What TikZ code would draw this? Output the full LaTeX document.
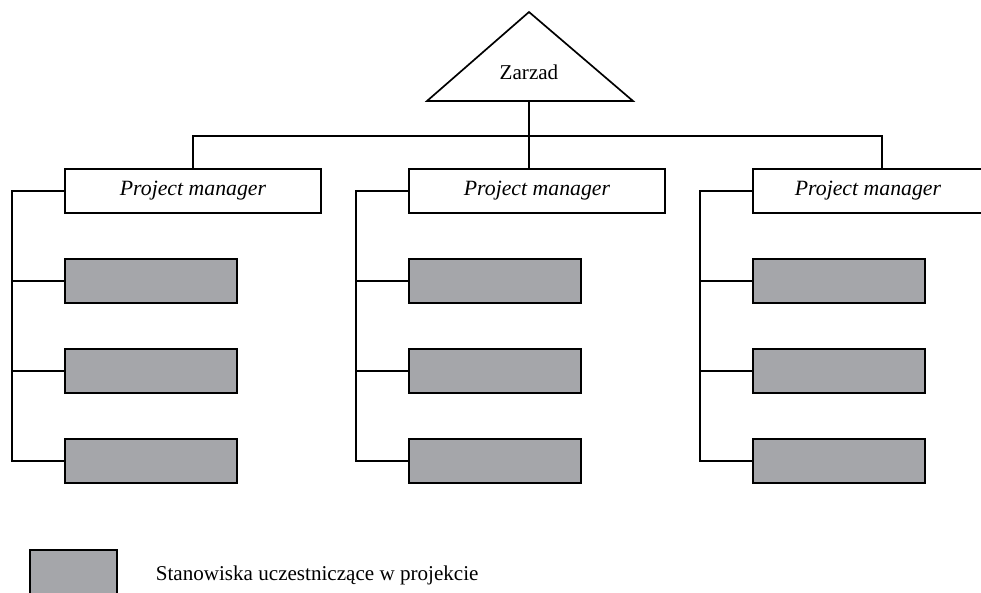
\documentclass[tikz,border=0pt]{standalone}
\usepackage{fontspec}
\setmainfont{Liberation Serif}
\usetikzlibrary{positioning}
\definecolor{postgray}{RGB}{165,166,170}
\tikzset{
	manager/.style={draw, rectangle, inner sep=2pt, outer sep=0pt, minimum width=6.4cm, minimum height=1.1cm, fill=white, font=\fontsize{15.5}{18}\selectfont\itshape},
	post/.style={draw, rectangle, inner sep=2pt, outer sep=0pt, minimum width=4.3cm, minimum height=1.1cm, fill=postgray},
	legendtext/.style={anchor=base west, inner sep=0pt},
}

\begin{document}
\begin{tikzpicture}[line width=1.2pt, font=\fontsize{15}{18}\selectfont]
		\path[use as bounding box] (0,0) rectangle (24.525,-14.8);
		\clip (0,0) rectangle (24.525,-14.8);
		
		% Zarzad
		\coordinate (apex) at (13.225,-0.3);
		\coordinate (baseL) at (10.675,-2.525);
		\coordinate (baseR) at (15.825,-2.525);
		\coordinate (zb) at (13.225,-2.525);
		\coordinate (hub) at (13.225,-3.4);
		\draw (baseL) -- (apex) -- (baseR) -- cycle;
		\node (zarzad) at (13.225,-1.8) {Zarzad};
		
		\node (pm1) [manager, anchor=north west] at (1.625,-4.225) {Project manager};
		\node (pm2) [manager, right=2.2cm of pm1] {Project manager};
		\node (pm3) [manager, right=2.2cm of pm2, minimum width=5.75cm] {Project manager};
		
		\foreach \i in {1,2,3} {
			\node (s\i1) [post, below right=1.15cm and 0cm of pm\i.south west] {};
			\node (s\i2) [post, below right=1.15cm and 0cm of s\i1.south west] {};
			\node (s\i3) [post, below right=1.15cm and 0cm of s\i2.south west] {};
			\coordinate (bus\i) at ([xshift=-1.325cm]pm\i.west);
			\draw (pm\i.west) -- (bus\i) |- (s\i3.west);
			\draw (s\i1.west) -- (s\i1.west -| bus\i);
			\draw (s\i2.west) -- (s\i2.west -| bus\i);
		}
		
		\draw (zb) -- (hub);
		\draw (pm1.north) |- (hub) -| ([xshift=0.35cm]pm3.north);
		\draw (hub) -- (pm2.north -| hub);
		
		% legend
		\node (legbox) [post, minimum width=2.175cm, anchor=north west] at (0.75,-13.75) {};
		\node (legtext) [legendtext] at (3.875,-14.5) {Stanowiska uczestniczące w projekcie};
\end{tikzpicture}
\end{document}
